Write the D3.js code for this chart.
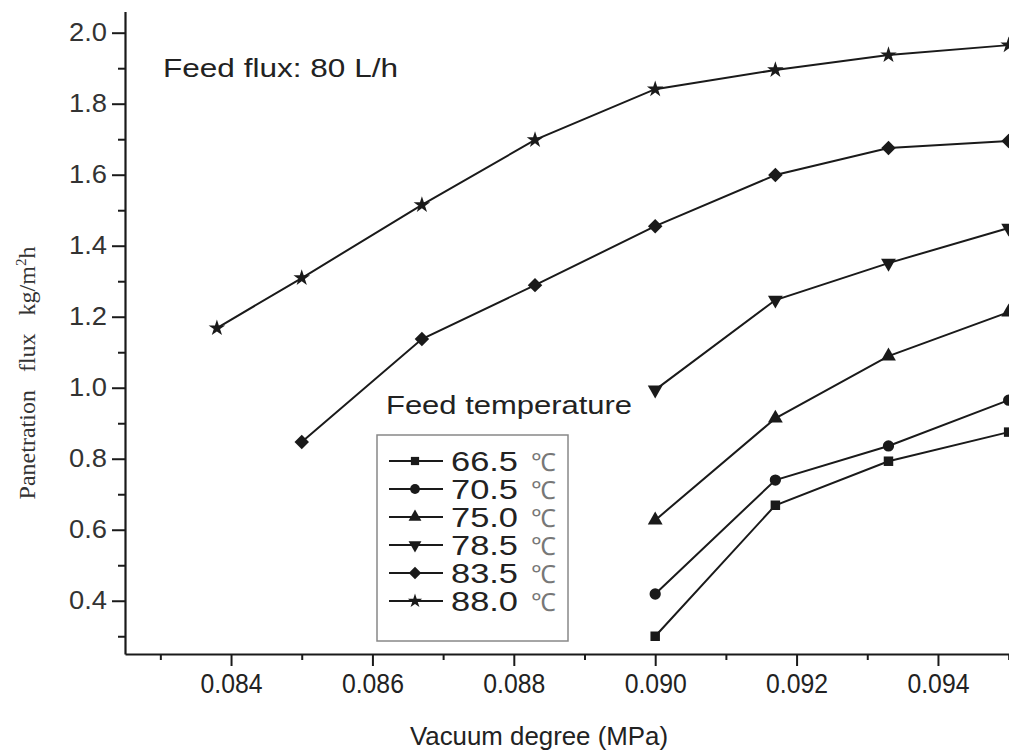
<!DOCTYPE html>
<html><head><meta charset="utf-8">
<script src="https://cdn.jsdelivr.net/npm/d3@7"></script>
<style>body{margin:0;background:#fff}svg{display:block}</style></head>
<body><svg id="c" width="1009" height="755"></svg>
<script>
// ---- data ----
const vacuum = [0.0838, 0.0850, 0.0867, 0.0883, 0.0900, 0.0917, 0.0933, 0.0950];
const temps = ["66.5", "70.5", "75.0", "78.5", "83.5", "88.0"];
const flux665 = [null, null, null, null, 0.300, 0.669, 0.793, 0.875];
const flux705 = [null, null, null, null, 0.419, 0.740, 0.836, 0.965];
const flux750 = [null, null, null, null, 0.627, 0.914, 1.089, 1.213];
const flux785 = [null, null, null, null, 0.994, 1.247, 1.351, 1.450];
const flux835 = [null, 0.847, 1.137, 1.289, 1.455, 1.599, 1.675, 1.695];
const flux880 = [1.168, 1.309, 1.515, 1.698, 1.841, 1.895, 1.937, 1.965];
const xTicks = [0.084, 0.086, 0.088, 0.090, 0.092, 0.094];
const xMinor = [0.083, 0.085, 0.087, 0.089, 0.091, 0.093, 0.095];
const yTicks = [0.4, 0.6, 0.8, 1.0, 1.2, 1.4, 1.6, 1.8, 2.0];
const yMinor = [0.3, 0.5, 0.7, 0.9, 1.1, 1.3, 1.5, 1.7, 1.9];

const seriesList = [flux665, flux705, flux750, flux785, flux835, flux880];
const symbols = [
  {t: d3.symbolSquare, s: 90, r: 0},
  {t: d3.symbolCircle, s: 100, r: 0},
  {t: d3.symbolTriangle, s: 95, r: 0},
  {t: d3.symbolTriangle, s: 95, r: 180},
  {t: d3.symbolSquare, s: 105, r: 45},
  {t: d3.symbolStar, s: 85, r: 0}
];

const svg = d3.select("#c");
const x = d3.scaleLinear().domain([0.0825, 0.0955]).range([125, 1044]);
const y = d3.scaleLinear().domain([0.25, 2.06]).range([654, 11.4]);
const ink = "#1a1a1a";

// axes
const gx = svg.append("g").attr("transform", "translate(0,654)");
gx.call(d3.axisBottom(x).tickValues(xTicks).tickSize(12).tickSizeOuter(0).tickFormat(d3.format(".3f")));
gx.append("g").call(d3.axisBottom(x).tickValues(xMinor).tickSize(6).tickFormat(""))
  .select(".domain").remove();
const gy = svg.append("g").attr("transform", "translate(125,0)");
gy.call(d3.axisLeft(y).tickValues(yTicks).tickSize(13).tickSizeOuter(0).tickFormat(d3.format(".1f")));
gy.append("g").call(d3.axisLeft(y).tickValues(yMinor).tickSize(7).tickFormat(""))
  .select(".domain").remove();
svg.selectAll(".domain").attr("stroke", ink).attr("stroke-width", 2.2);
svg.selectAll(".tick line").attr("stroke", ink).attr("stroke-width", 2);
gx.selectAll(".tick text").attr("font-family", "Liberation Sans, Arial, sans-serif")
  .attr("font-size", 27).attr("fill", "#222").attr("y", 39).attr("dy", 0)
  .attr("textLength", 62).attr("lengthAdjust", "spacingAndGlyphs");
gy.selectAll(".tick text").attr("font-family", "Liberation Sans, Arial, sans-serif")
  .attr("font-size", 25).attr("fill", "#333").attr("x", -18)
  .attr("textLength", 38).attr("lengthAdjust", "spacingAndGlyphs");

// lines and markers
const line = d3.line().defined(d => d[1] != null).x(d => x(d[0])).y(d => y(d[1]));
seriesList.forEach((vals, i) => {
  const pts = vacuum.map((v, j) => [v, vals[j]]);
  svg.append("path").datum(pts).attr("d", line)
    .attr("fill", "none").attr("stroke", ink).attr("stroke-width", 2);
  const sym = symbols[i];
  svg.append("g").selectAll("path").data(pts.filter(d => d[1] != null)).join("path")
    .attr("d", d3.symbol().type(sym.t).size(sym.s))
    .attr("transform", d => `translate(${x(d[0])},${y(d[1])}) rotate(${sym.r})`)
    .attr("fill", ink);
});

// annotations
svg.append("text").attr("x", 163).attr("y", 77).text("Feed flux: 80 L/h")
  .attr("font-family", "Liberation Sans, Arial, sans-serif").attr("font-size", 25).attr("fill", "#222")
  .attr("textLength", 235).attr("lengthAdjust", "spacingAndGlyphs");
svg.append("text").attr("x", 386).attr("y", 414).text("Feed temperature")
  .attr("font-family", "Liberation Sans, Arial, sans-serif").attr("font-size", 25).attr("fill", "#222")
  .attr("textLength", 246).attr("lengthAdjust", "spacingAndGlyphs");
svg.append("text").attr("x", 539).attr("y", 745).attr("text-anchor", "middle").text("Vacuum degree (MPa)")
  .attr("font-family", "Liberation Sans, Arial, sans-serif").attr("font-size", 26).attr("fill", "#222")
  .attr("textLength", 258).attr("lengthAdjust", "spacingAndGlyphs");

// y label
const yl = svg.append("text").attr("transform", "translate(35,373) rotate(-90)")
  .attr("text-anchor", "middle").attr("font-family", "Liberation Serif, Times New Roman, serif")
  .attr("font-size", 24).attr("fill", "#333").attr("xml:space", "preserve").style("white-space", "pre");
yl.append("tspan").text("Panetration   flux   kg/m");
yl.append("tspan").text("2").attr("font-size", 15).attr("dy", -9);
yl.append("tspan").text("h").attr("dy", 9);

// legend
svg.append("rect").attr("x", 377).attr("y", 435).attr("width", 191).attr("height", 206)
  .attr("fill", "none").attr("stroke", "#888").attr("stroke-width", 1.5);
const lg = svg.append("g").selectAll("g").data(temps).join("g")
  .attr("transform", (d, i) => `translate(0,${461 + i * 28})`);
lg.append("line").attr("x1", 389).attr("x2", 443).attr("stroke", ink).attr("stroke-width", 2);
lg.append("path").attr("d", (d, i) => d3.symbol().type(symbols[i].t).size(symbols[i].s * 0.75)())
  .attr("transform", (d, i) => `translate(415,0) rotate(${symbols[i].r})`).attr("fill", ink);
lg.append("text").attr("x", 451).attr("y", 10).text(d => d)
  .attr("font-family", "Liberation Sans, Arial, sans-serif").attr("font-size", 27).attr("fill", "#222")
  .attr("textLength", 67).attr("lengthAdjust", "spacingAndGlyphs");
lg.append("text").attr("x", 531).attr("y", 10).text("℃")
  .attr("font-family", "Liberation Serif, Times New Roman, serif").attr("font-size", 25).attr("fill", "#777");
</script></body></html>
